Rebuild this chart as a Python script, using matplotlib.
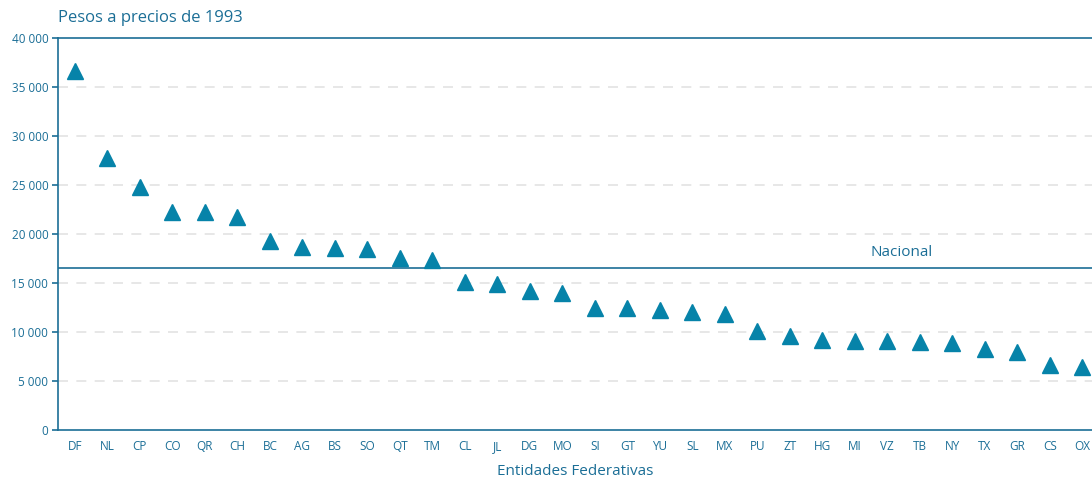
import numpy as np
import matplotlib.pyplot as plt

plt.rcParams['font.family'] = ['Open Sans', 'DejaVu Sans']

estados = ['DF', 'NL', 'CP', 'CO', 'QR', 'CH', 'BC', 'AG', 'BS', 'SO', 'QT', 'TM',
           'CL', 'JL', 'DG', 'MO', 'SI', 'GT', 'YU', 'SL', 'MX', 'PU', 'ZT', 'HG',
           'MI', 'VZ', 'TB', 'NY', 'TX', 'GR', 'CS', 'OX']
pib_pc = [36600, 27800, 24800, 22200, 22200, 21700, 19300, 18700, 18600, 18500, 17600, 17300,
          15100, 14900, 14200, 14000, 12500, 12400, 12200, 12000, 11800, 10100, 9600, 9200,
          9100, 9100, 9000, 8900, 8300, 8000, 6600, 6400]
nacional = 16550

azul = '#0683a9'
texto = '#1b6e96'

fig = plt.figure(figsize=(10.92, 4.78), dpi=100)
ax = fig.add_axes([58/1092, 48/478, 1 - 58/1092, 392/478])

x = np.arange(len(estados))
ax.plot(x, pib_pc, '^', color=azul, ms=11.5, zorder=3)
ax.axhline(nacional, color=texto, lw=1.2, zorder=2)
ax.text(25.45, nacional + 800, 'Nacional', color=texto, fontsize=11, ha='center', va='bottom')

ax.set_ylim(0, 40000)
ax.set_xlim(-0.52, 31.3)
ax.set_yticks(range(0, 40001, 5000))
ax.set_yticklabels(['0' if v == 0 else f'{v // 1000} 000' for v in range(0, 40001, 5000)])
ax.set_xticks(x)
ax.set_xticklabels(estados)
for v in range(5000, 40000, 5000):
    ax.axhline(v, color='#e3e3e3', lw=1.2, ls=(0, (6, 5)), zorder=1)

for s in ['left', 'bottom', 'top']:
    ax.spines[s].set_color(texto)
    ax.spines[s].set_linewidth(1.2)
ax.spines['right'].set_visible(False)
ax.tick_params(axis='y', colors=texto, labelsize=8.5, length=4, width=1.2, pad=3)
ax.tick_params(axis='x', colors=texto, labelsize=8.5, length=0, pad=7)

ax.set_xlabel('Entidades Federativas', color=texto, fontsize=11, labelpad=8)
fig.text(58/1092, 1 - 18/478, 'Pesos a precios de 1993', color=texto, fontsize=12,
         ha='left', va='center')

fig.savefig('out.png', dpi=100)
